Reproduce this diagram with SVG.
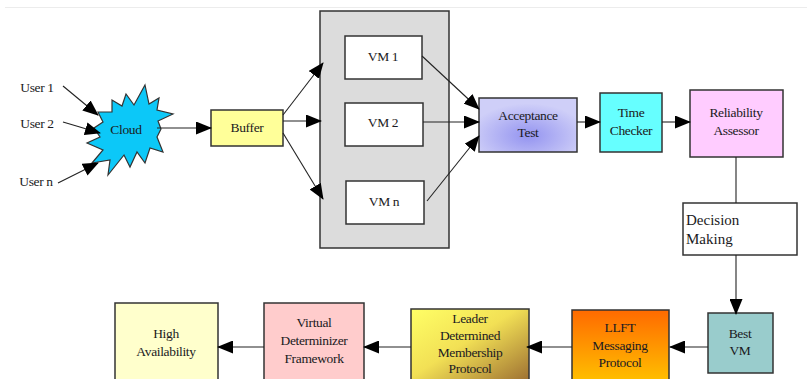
<svg xmlns="http://www.w3.org/2000/svg" width="807" height="379" viewBox="0 0 807 379">
<style>
  .box{stroke:#333;stroke-width:1.5}
  .t{font-family:"Liberation Serif","Times New Roman",serif;font-size:13.5px;fill:#1a1a22;text-anchor:middle;letter-spacing:-0.35px}
  .tl{font-family:"Liberation Serif","Times New Roman",serif;font-size:15px;fill:#1a1a22}
  .c{stroke:#222;stroke-width:1.1;fill:none}
</style>
<defs>
  <marker id="ah" markerWidth="16" markerHeight="13" refX="15" refY="6.5" orient="auto" markerUnits="userSpaceOnUse">
    <path d="M0,0 L16,6.5 L0,13 Z" fill="#000"/>
  </marker>
  <radialGradient id="gAcc" cx="0.5" cy="0.7" r="0.6">
    <stop offset="0" stop-color="#9494f0"/>
    <stop offset="1" stop-color="#cfcff8"/>
  </radialGradient>
  <linearGradient id="gLLFT" x1="0" y1="0" x2="0" y2="1">
    <stop offset="0" stop-color="#ff6a00"/>
    <stop offset="1" stop-color="#ffc400"/>
  </linearGradient>
  <linearGradient id="gLead" x1="0" y1="0" x2="1" y2="1">
    <stop offset="0" stop-color="#ffff66"/>
    <stop offset="0.45" stop-color="#f2e055"/>
    <stop offset="1" stop-color="#996a30"/>
  </linearGradient>
</defs>
<rect width="807" height="379" fill="#fff"/>
<line x1="5" y1="7.5" x2="807" y2="7.5" stroke="#ececec" stroke-width="1"/>

<g id="users">
  <text class="t" x="37" y="92">User 1</text>
  <text class="t" x="37" y="128">User 2</text>
  <text class="t" x="36" y="186">User n</text>
</g>

<g id="cloud">
  <polygon points="145,85 149,104 159,98 157,110 173,114 158,121 161,129 157,137 163,152 150,148 145,163 137,152 130,167 124,155 108,175 110,160 92,163 103,150 87,143 100,137 94,128 103,122 98,112 112,112 112,100 122,106 126,94 134,105" fill="#0cc8f8" stroke="#333" stroke-width="1.2"/>
  <text class="t" x="126" y="134">Cloud</text>
</g>

<g id="buffer">
  <rect class="box" x="211" y="110" width="72" height="36" fill="#ffff99"/>
  <text class="t" x="247" y="132">Buffer</text>
</g>

<g id="vmgroup">
  <rect class="box" x="320" y="11" width="129" height="237" fill="#dcdcdc"/>
</g>
<g id="vm1">
  <rect class="box" x="345" y="36" width="77" height="43" fill="#fff"/>
  <text class="t" x="383" y="61">VM 1</text>
</g>
<g id="vm2">
  <rect class="box" x="345" y="103" width="78" height="43" fill="#fff"/>
  <text class="t" x="383" y="127">VM 2</text>
</g>
<g id="vmn">
  <rect class="box" x="346" y="181" width="78" height="43" fill="#fff"/>
  <text class="t" x="384" y="206">VM n</text>
</g>

<g id="acceptance">
  <rect class="box" x="479" y="98" width="98" height="54" fill="url(#gAcc)"/>
  <text class="t" x="528" y="120">Acceptance</text>
  <text class="t" x="528" y="137">Test</text>
</g>
<g id="timechecker">
  <rect class="box" x="600" y="93" width="62" height="59" fill="#66ffff"/>
  <text class="t" x="631" y="117">Time</text>
  <text class="t" x="631" y="135">Checker</text>
</g>
<g id="reliability">
  <rect class="box" x="690" y="90" width="93" height="67" fill="#ffccff"/>
  <text class="t" x="736" y="117">Reliability</text>
  <text class="t" x="736" y="135">Assessor</text>
</g>
<g id="decision">
  <rect class="box" x="683" y="203" width="114" height="52" fill="#fff"/>
  <text class="tl" x="686" y="225">Decision</text>
  <text class="tl" x="686" y="244">Making</text>
</g>
<g id="bestvm">
  <rect class="box" x="708" y="313" width="65" height="60" fill="#99cccc"/>
  <text class="t" x="740" y="338">Best</text>
  <text class="t" x="740" y="355">VM</text>
</g>
<g id="llft">
  <rect class="box" x="572" y="310" width="97" height="75" fill="url(#gLLFT)"/>
  <text class="t" x="620" y="332">LLFT</text>
  <text class="t" x="620" y="350">Messaging</text>
  <text class="t" x="620" y="367">Protocol</text>
</g>
<g id="leader">
  <rect class="box" x="411" y="309" width="118" height="76" fill="url(#gLead)"/>
  <text class="t" x="470" y="323">Leader</text>
  <text class="t" x="470" y="340">Determined</text>
  <text class="t" x="470" y="357">Membership</text>
  <text class="t" x="470" y="373">Protocol</text>
</g>
<g id="vdf">
  <rect class="box" x="264" y="303" width="100" height="82" fill="#ffcccc"/>
  <text class="t" x="314" y="327">Virtual</text>
  <text class="t" x="314" y="345">Determinizer</text>
  <text class="t" x="314" y="363">Framework</text>
</g>
<g id="highavail">
  <rect class="box" x="115" y="303" width="103" height="82" fill="#ffffcc"/>
  <text class="t" x="166" y="338">High</text>
  <text class="t" x="166" y="356">Availability</text>
</g>

<g id="connectors">
  <line class="c" x1="63" y1="86" x2="98" y2="115" marker-end="url(#ah)"/>
  <line class="c" x1="63" y1="122" x2="100" y2="133" marker-end="url(#ah)"/>
  <line class="c" x1="58" y1="183" x2="98" y2="163" marker-end="url(#ah)"/>
  <line class="c" x1="157" y1="128" x2="211" y2="128" marker-end="url(#ah)"/>
  <line class="c" x1="283" y1="115" x2="323" y2="63" marker-end="url(#ah)"/>
  <line class="c" x1="283" y1="121" x2="321" y2="121" marker-end="url(#ah)"/>
  <line class="c" x1="283" y1="133" x2="323" y2="199" marker-end="url(#ah)"/>
  <line class="c" x1="422" y1="56" x2="479" y2="109" marker-end="url(#ah)"/>
  <line class="c" x1="423" y1="122" x2="479" y2="122" marker-end="url(#ah)"/>
  <line class="c" x1="427" y1="201" x2="479" y2="136" marker-end="url(#ah)"/>
  <line class="c" x1="577" y1="122" x2="600" y2="122" marker-end="url(#ah)"/>
  <line class="c" x1="662" y1="122" x2="690" y2="122" marker-end="url(#ah)"/>
  <line class="c" x1="736" y1="157" x2="736" y2="203" stroke-width="1.5"/>
  <line class="c" x1="736" y1="255" x2="736" y2="314" stroke-width="1.5" marker-end="url(#ah)"/>
  <line class="c" x1="708" y1="347" x2="670" y2="347" marker-end="url(#ah)"/>
  <line class="c" x1="572" y1="347" x2="527" y2="347" marker-end="url(#ah)"/>
  <line class="c" x1="411" y1="347" x2="364" y2="347" marker-end="url(#ah)"/>
  <line class="c" x1="264" y1="347" x2="218" y2="347" marker-end="url(#ah)"/>
</g>
</svg>
